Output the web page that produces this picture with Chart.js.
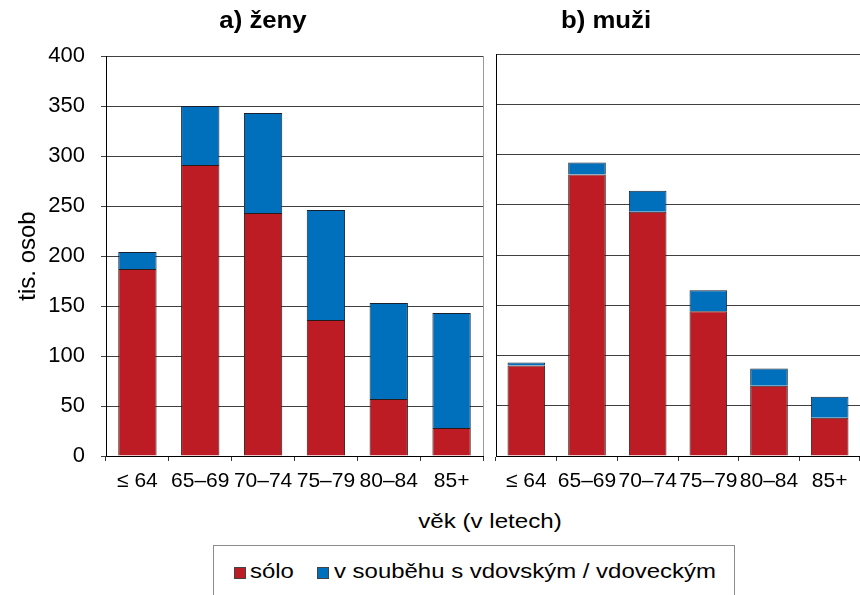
<!DOCTYPE html>
<html>
<head>
<meta charset="utf-8">
<script src="https://cdn.jsdelivr.net/npm/chart.js@4"></script>
<style>
    body { margin: 0; background: #fff; font-family: "Liberation Sans", Arial, sans-serif; }
    #wrap { position: relative; width: 860px; height: 595px; overflow: hidden; }
    canvas { position: absolute; top: 0; }
    .panel-title { position: absolute; top: 7px; font-weight: bold; font-size: 23px; color: #000; transform: translateX(-50%) scaleX(1.12); white-space: nowrap; }
    #xTitle { position: absolute; top: 509px; left: 490px; transform: translateX(-50%) scaleX(1.15); font-size: 21px; white-space: nowrap; }
    #legend { position: absolute; left: 213px; top: 545px; width: 522px; height: 70px; border: 1px solid #8c8c8c; box-sizing: border-box; font-size: 21px; }
    .item { position: absolute; top: 13px; white-space: nowrap; }
    .lbl { display: inline-block; transform: scaleX(1.14); transform-origin: left center; }
    .sw { position: absolute; top: 8px; width: 10px; height: 10px; border: 1px solid #444; }
</style>
</head>
<body>
<div id="wrap">
    <canvas id="chartZeny" width="490" height="500" style="left:0"></canvas>
    <canvas id="chartMuzi" width="370" height="500" style="left:490px"></canvas>
    <div class="panel-title" style="left:263px">a) ženy</div>
    <div class="panel-title" style="left:606px">b) muži</div>
    <div id="xTitle">věk (v letech)</div>
    <div id="legend">
        <span class="sw" id="swSolo" style="left:20px;top:21px"></span>
        <span class="item" style="left:36px"><span class="lbl">sólo</span></span>
        <span class="sw" id="swSoubeh" style="left:103px;top:21px"></span>
        <span class="item" style="left:120px"><span class="lbl">v souběhu s vdovským / vdoveckým</span></span>
    </div>
</div>
<script>
const ageGroups = ['≤ 64', '65–69', '70–74', '75–79', '80–84', '85+'];
const zenySolo = [187, 291, 243, 136, 57, 28];
const zenySoubeh = [17, 59, 100, 110, 96, 115];
const muziSolo = [90, 280, 243, 144, 70, 38];
const muziSoubeh = [3, 12, 21, 21, 17, 21];
const seriesNames = ['sólo', 'v souběhu s vdovským / vdoveckým'];

const redColor = '#be1c24';
const blueColor = '#0070bc';
const fontFamily = '"Liberation Sans", Arial, sans-serif';

document.getElementById('swSolo').style.background = redColor;
document.getElementById('swSoubeh').style.background = blueColor;

// thin gray line on the right edge of the left panel
const frame = {
    id: 'frame',
    afterDraw(chart, args, opts) {
        if (!opts.right) return;
        const a = chart.chartArea;
        const ctx = chart.ctx;
        ctx.save();
        ctx.strokeStyle = '#9a9a9a';
        ctx.lineWidth = 1;
        ctx.beginPath();
        ctx.moveTo(Math.round(a.right) + 0.5, a.top);
        ctx.lineTo(Math.round(a.right) + 0.5, a.bottom);
        ctx.stroke();
        ctx.restore();
    }
};

function makeChart(el, solo, soubeh, opts) {
    return new Chart(el, {
        type: 'bar',
        data: {
            labels: ageGroups,
            datasets: [
                {
                    label: seriesNames[0],
                    data: solo,
                    backgroundColor: redColor,
                    borderColor: '#2a1a1a',
                    borderWidth: 1,
                    barPercentage: opts.barPct,
                    categoryPercentage: 1.0
                },
                {
                    label: seriesNames[1],
                    data: soubeh,
                    backgroundColor: blueColor,
                    borderColor: '#1a2030',
                    borderWidth: 1,
                    barPercentage: opts.barPct,
                    categoryPercentage: 1.0
                }
            ]
        },
        options: {
            responsive: false,
            animation: false,
            devicePixelRatio: 1,
            layout: {
                padding: { top: opts.top, left: opts.padLeft, right: opts.padRight, bottom: 0 }
            },
            plugins: {
                legend: { display: false },
                tooltip: { enabled: false },
                frame: { right: opts.frameRight }
            },
            scales: {
                x: {
                    stacked: true,
                    afterFit: function(scale) { scale.height = 44; },
                    border: { color: '#000', width: 1 },
                    grid: {
                        offset: true,
                        drawOnChartArea: false,
                        drawTicks: true,
                        tickLength: 5,
                        color: '#333'
                    },
                    ticks: {
                        color: '#000',
                        autoSkip: false,
                        maxRotation: 0,
                        padding: 8,
                        font: { family: fontFamily, size: 21 }
                    }
                },
                y: {
                    stacked: true,
                    min: 0,
                    max: 400,
                    afterFit: function(scale) { scale.width = opts.yWidth; },
                    border: { color: '#000', width: 1 },
                    grid: {
                        color: '#404040',
                        drawTicks: opts.showTicks,
                        tickLength: 5
                    },
                    ticks: {
                        display: opts.showTicks,
                        stepSize: 50,
                        padding: 16,
                        color: '#000',
                        font: { family: fontFamily, size: 22 }
                    },
                    title: {
                        display: opts.showTicks,
                        text: 'tis. osob',
                        color: '#000',
                        padding: { top: 14, bottom: 0 },
                        font: { family: fontFamily, size: 24 }
                    }
                }
            }
        },
        plugins: [frame]
    });
}

makeChart(document.getElementById('chartZeny'), zenySolo, zenySoubeh, {
    top: 56, padLeft: 0, padRight: 7, yWidth: 106, showTicks: true, barPct: 0.61, frameRight: true
});
makeChart(document.getElementById('chartMuzi'), muziSolo, muziSoubeh, {
    top: 54, padLeft: 6, padRight: 0, yWidth: 0, showTicks: false, barPct: 0.62, frameRight: false
});
</script>
</body>
</html>
